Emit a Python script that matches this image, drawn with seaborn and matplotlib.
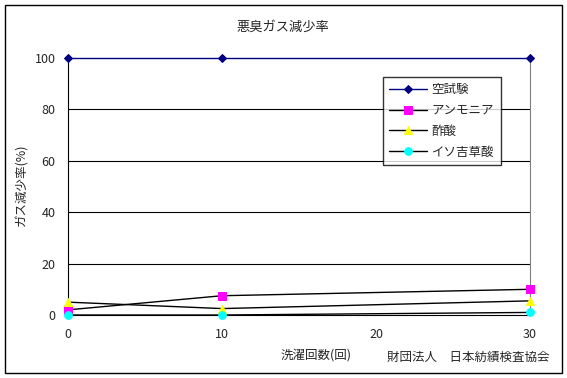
import pandas as pd
import seaborn as sns
import matplotlib.pyplot as plt
from matplotlib.patches import Rectangle

# データ
wash = [0, 10, 30]
blank = [100, 100, 100]
ammonia = [2, 7.5, 10]
acetic = [5, 2.5, 5.5]
isovaleric = [0, 0, 1]

series = ["空試験", "アンモニア", "酢酸", "イソ吉草酸"]
values = [blank, ammonia, acetic, isovaleric]
line_colors = ["#000080", "black", "black", "black"]
marker_colors = ["#000080", "#FF00FF", "#FFFF00", "#00FFFF"]
markers = ["D", "s", "^", "o"]
marker_sizes = [4, 6, 6, 5.5]

sns.set_style("white")
plt.rcParams['font.family'] = ['Noto Sans CJK JP', 'DejaVu Sans']

fig = plt.figure(figsize=(5.67, 3.78), dpi=100)
ax = fig.add_axes([68 / 567, 1 - 315 / 378, (530 - 68) / 567, (315 - 58) / 378])

for name, vals, lc, mc, mk, ms in zip(series, values, line_colors, marker_colors, markers, marker_sizes):
    df = pd.DataFrame({"x": wash, "y": vals})
    sns.lineplot(data=df, x="x", y="y", ax=ax, color=lc, linewidth=1,
                 marker=mk, markersize=ms, markerfacecolor=mc, markeredgecolor=mc,
                 label=name, clip_on=False, zorder=5)

ax.set_xlim(0, 30)
ax.set_ylim(0, 100)
ax.set_xticks([0, 10, 20, 30])
ax.set_yticks([0, 20, 40, 60, 80, 100])
for y in [20, 40, 60, 80]:
    ax.axhline(y, color="black", linewidth=0.8, zorder=1)
ax.tick_params(axis="x", labelsize=9, length=3, width=0.8, color="black", direction="inout", pad=8)
ax.tick_params(axis="y", labelsize=9, length=0, pad=9)
ax.spines["top"].set_visible(False)
ax.spines["left"].set_color("black")
ax.spines["bottom"].set_color("black")
ax.spines["right"].set_color("#808080")
for s in ["left", "bottom", "right"]:
    ax.spines[s].set_linewidth(0.8)

ax.set_xlabel("")
ax.set_ylabel("")

fig.text(22 / 567, 1 - 185 / 378, "ガス減少率(%)", ha="center", va="center", fontsize=9, rotation=90)
fig.text(283 / 567, 1 - 27 / 378, "悪臭ガス減少率", ha="center", va="center", fontsize=9.5)
fig.text(316 / 567, 1 - 355 / 378, "洗濯回数(回)", ha="center", va="center", fontsize=9)
fig.text(468 / 567, 1 - 357 / 378, "財団法人　日本紡績検査協会", ha="center", va="center", fontsize=9)

leg = ax.legend(loc="upper left", bbox_to_anchor=((383 - 68) / 462, 1 - (77 - 58) / 257),
                borderaxespad=0, fontsize=9, frameon=True, fancybox=False, shadow=False,
                borderpad=0.5, labelspacing=0.62, handlelength=3.0, handletextpad=0.4,
                edgecolor="black")
leg.get_frame().set_linewidth(1)
leg.set_zorder(10)

fig.patches.append(Rectangle((5 / 567, 5 / 378), 557 / 567, 368 / 378, transform=fig.transFigure,
                             fill=False, edgecolor="black", linewidth=1))

fig.savefig("out.png", dpi=100)
